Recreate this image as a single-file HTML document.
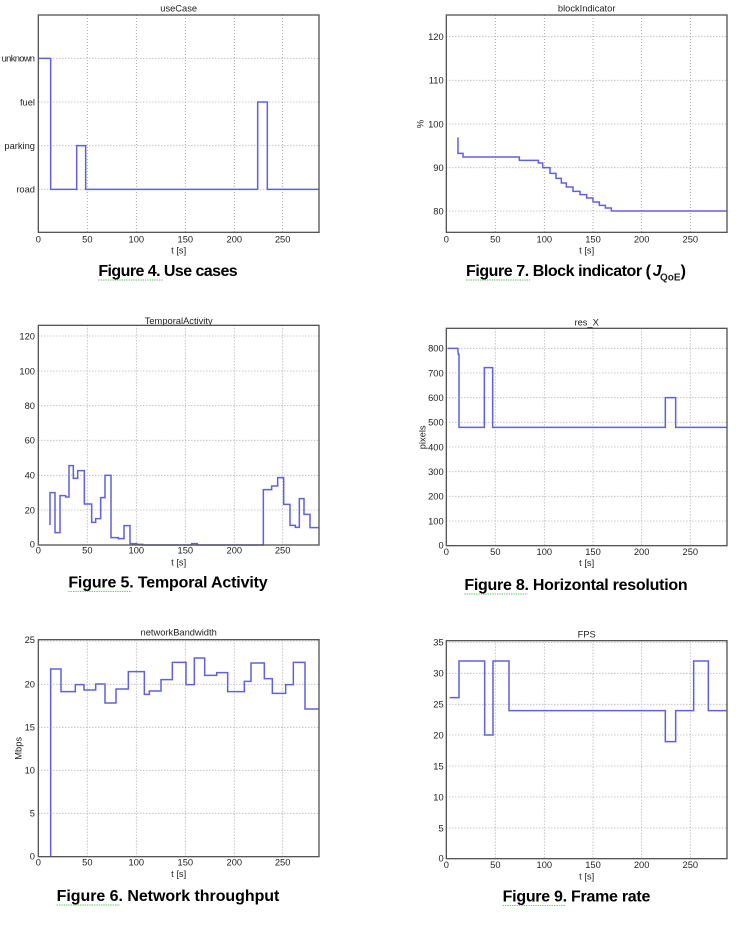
<!DOCTYPE html>
<html><head><meta charset="utf-8"><style>
html,body{margin:0;padding:0;background:#fff;}
svg{display:block;}
text{font-family:"Liberation Sans",sans-serif;fill:#222;}
.t{font-size:28px;}
.cap{font-size:48px;font-weight:bold;fill:#000;}
.d{fill:none;stroke:#6060e0;stroke-width:4.5;}
.ax{fill:none;stroke:#555;stroke-width:4;}
.g{stroke:#999;stroke-width:2.5;stroke-dasharray:3 6;}
.w{stroke:#2a2;stroke-width:2;stroke-dasharray:4 3;}
</style></head><body>
<svg width="753" height="925" viewBox="0 0 753 925" xmlns="http://www.w3.org/2000/svg">
<rect width="753" height="925" fill="#fff"/>

<!-- Panel 1 -->
<g transform="translate(0,0) scale(0.33333)">
<g id="g1"></g>
<text class="t" x="536" y="35" text-anchor="middle">useCase</text>
<g class="t" text-anchor="end"><text x="105" y="185" textLength="100">unknown</text><text x="105" y="316">fuel</text><text x="105" y="447">parking</text><text x="105" y="578">road</text></g>
<g class="t" text-anchor="middle"><text x="115" y="727">0</text><text x="262" y="727">50</text><text x="409" y="727">100</text><text x="556" y="727">150</text><text x="703" y="727">200</text><text x="848" y="727">250</text></g>
<text class="t" x="536" y="760" text-anchor="middle">t [s]</text>
<polyline class="d" points="115,175 152,175 152,568 230,568 230,437 257,437 257,568 773,568 773,306 802,306 802,568 957,568"/>
<rect class="ax" x="115" y="45" width="842" height="652"/>
<text class="cap" x="295" y="828" textLength="418">Figure 4. Use cases</text>
<line class="w" x1="295" y1="840" x2="488" y2="840"/>
</g>

<!-- Panel 2 -->
<g transform="translate(0,310) scale(0.33333)">
<g id="g2"></g>
<text class="t" x="536" y="42" text-anchor="middle">TemporalActivity</text>
<g class="t" text-anchor="end"><text x="105" y="88">120</text><text x="105" y="193">100</text><text x="105" y="297">80</text><text x="105" y="401">60</text><text x="105" y="506">40</text><text x="105" y="610">20</text><text x="105" y="713">0</text></g>
<g class="t" text-anchor="middle"><text x="115" y="731">0</text><text x="262" y="731">50</text><text x="409" y="731">100</text><text x="556" y="731">150</text><text x="703" y="731">200</text><text x="848" y="731">250</text></g>
<text class="t" x="536" y="766" text-anchor="middle">t [s]</text>
<polyline class="d" points="150,645 150,548 165,548 165,668 180,668 180,557 197,557 197,561 207,561 207,467 220,467 220,505 233,505 233,482 253,482 253,582 275,582 275,637 287,637 287,626 302,626 302,563 315,563 315,496 333,496 333,683 355,683 355,686 372,686 372,647 390,647 390,701 410,701 410,703 428,703 428,705 575,705 575,701 592,701 592,705 790,705 790,539 815,539 815,528 833,528 833,503 851,503 851,583 870,583 870,646 886,646 886,652 898,652 898,566 912,566 912,613 930,613 930,653 957,653"/>
<rect class="ax" x="115" y="46" width="842" height="659"/>
<text class="cap" x="205" y="833" textLength="598">Figure 5. Temporal Activity</text>
<line class="w" x1="205" y1="845" x2="395" y2="845"/>
</g>

<!-- Panel 3 -->
<g transform="translate(0,625) scale(0.33333)">
<g id="g3"></g>
<text class="t" x="536" y="32" text-anchor="middle">networkBandwidth</text>
<g class="t" text-anchor="end"><text x="105" y="54">25</text><text x="105" y="188">20</text><text x="105" y="317">15</text><text x="105" y="446">10</text><text x="105" y="575">5</text><text x="105" y="703">0</text></g>
<text class="t" transform="translate(65,370) rotate(-90)" text-anchor="middle">Mbps</text>
<g class="t" text-anchor="middle"><text x="115" y="722">0</text><text x="262" y="722">50</text><text x="409" y="722">100</text><text x="556" y="722">150</text><text x="703" y="722">200</text><text x="848" y="722">250</text></g>
<text class="t" x="536" y="756" text-anchor="middle">t [s]</text>
<polyline class="d" points="152,695 152,132 183,132 183,200 226,200 226,179 252,179 252,195 287,195 287,177 315,177 315,234 348,234 348,192 385,192 385,140 433,140 433,208 448,208 448,198 483,198 483,164 517,164 517,112 558,112 558,179 583,179 583,99 614,99 614,151 650,151 650,143 683,143 683,200 733,200 733,169 753,169 753,114 793,114 793,161 817,161 817,205 857,205 857,179 880,179 880,112 915,112 915,252 957,252"/>
<rect class="ax" x="115" y="44" width="842" height="651"/>
<text class="cap" x="170" y="828" textLength="668">Figure 6. Network throughput</text>
<line class="w" x1="170" y1="840" x2="360" y2="840"/>
</g>

<!-- Panel 4 -->
<g transform="translate(376,0) scale(0.33333)">
<g id="g4"></g>
<text class="t" x="632" y="35" text-anchor="middle">blockIndicator</text>
<g class="t" text-anchor="end"><text x="203" y="120">120</text><text x="203" y="251">110</text><text x="203" y="382">100</text><text x="203" y="513">90</text><text x="203" y="643">80</text></g>
<text class="t" transform="translate(143,372) rotate(-90)" text-anchor="middle">%</text>
<g class="t" text-anchor="middle"><text x="211" y="727">0</text><text x="358" y="727">50</text><text x="505" y="727">100</text><text x="651" y="727">150</text><text x="797" y="727">200</text><text x="943" y="727">250</text></g>
<text class="t" x="632" y="760" text-anchor="middle">t [s]</text>
<polyline class="d" points="246,412 246,460 261,460 261,471 430,471 430,481 487,481 487,489 500,489 500,503 522,503 522,520 540,520 540,535 556,535 556,549 571,549 571,561 591,561 591,574 612,574 612,584 632,584 632,594 651,594 651,606 670,606 670,616 688,616 688,624 706,624 706,633 1053,633"/>
<rect class="ax" x="211" y="45" width="842" height="652"/>
<text class="cap" x="270" y="828" textLength="555">Figure 7. Block indicator (</text>
<text class="cap" x="830" y="828" font-style="italic" font-family="Liberation Serif">J</text>
<text x="852" y="842" font-size="30" font-weight="bold" font-family="Liberation Serif" fill="#000">QoE</text>
<text class="cap" x="914" y="828">)</text>
<line class="w" x1="270" y1="840" x2="462" y2="840"/>
</g>

<!-- Panel 5 -->
<g transform="translate(376,310) scale(0.33333)">
<g id="g5"></g>
<text class="t" x="632" y="46" text-anchor="middle">res_X</text>
<g class="t" text-anchor="end"><text x="203" y="125">800</text><text x="203" y="199">700</text><text x="203" y="273">600</text><text x="203" y="347">500</text><text x="203" y="421">400</text><text x="203" y="495">300</text><text x="203" y="569">200</text><text x="203" y="643">100</text><text x="203" y="715">0</text></g>
<text class="t" transform="translate(148,382) rotate(-90)" text-anchor="middle">pixels</text>
<g class="t" text-anchor="middle"><text x="211" y="735">0</text><text x="358" y="735">50</text><text x="505" y="735">100</text><text x="651" y="735">150</text><text x="797" y="735">200</text><text x="943" y="735">250</text></g>
<text class="t" x="632" y="768" text-anchor="middle">t [s]</text>
<polyline class="d" points="215,115 245,115 247,133 249,133 249,352 325,352 325,173 350,173 350,352 868,352 868,263 899,263 899,352 1053,352"/>
<rect class="ax" x="211" y="55" width="842" height="652"/>
<text class="cap" x="265" y="840" textLength="670">Figure 8. Horizontal resolution</text>
<line class="w" x1="265" y1="852" x2="455" y2="852"/>
</g>

<!-- Panel 6 -->
<g transform="translate(376,625) scale(0.33333)">
<g id="g6"></g>
<text class="t" x="632" y="38" text-anchor="middle">FPS</text>
<g class="t" text-anchor="end"><text x="203" y="62">35</text><text x="203" y="155">30</text><text x="203" y="248">25</text><text x="203" y="340">20</text><text x="203" y="433">15</text><text x="203" y="526">10</text><text x="203" y="619">5</text><text x="203" y="709">0</text></g>
<g class="t" text-anchor="middle"><text x="211" y="729">0</text><text x="358" y="729">50</text><text x="505" y="729">100</text><text x="651" y="729">150</text><text x="797" y="729">200</text><text x="943" y="729">250</text></g>
<text class="t" x="632" y="763" text-anchor="middle">t [s]</text>
<polyline class="d" points="221,218 249,218 249,108 326,108 326,330 351,330 351,108 399,108 399,257 868,257 868,350 899,350 899,257 953,257 953,108 997,108 997,257 1053,257"/>
<rect class="ax" x="211" y="47" width="842" height="654"/>
<text class="cap" x="380" y="830" textLength="443">Figure 9. Frame rate</text>
<line class="w" x1="380" y1="842" x2="570" y2="842"/>
</g>
</svg>
<script>
var NS="http://www.w3.org/2000/svg";
function grid(id,xs,ys,x0,x1,y0,y1){
  var g=document.getElementById(id);
  xs.forEach(function(x){var l=document.createElementNS(NS,"line");l.setAttribute("class","g");l.setAttribute("x1",x);l.setAttribute("x2",x);l.setAttribute("y1",y0);l.setAttribute("y2",y1);g.appendChild(l);});
  ys.forEach(function(y){var l=document.createElementNS(NS,"line");l.setAttribute("class","g");l.setAttribute("y1",y);l.setAttribute("y2",y);l.setAttribute("x1",x0);l.setAttribute("x2",x1);g.appendChild(l);});
}
var LX=[262,409,556,703,848], RX=[358,505,651,797,943];
grid("g1",LX,[175,306,437,568],115,957,45,697);
grid("g2",LX,[78,183,287,391,496,600],115,957,46,705);
grid("g3",LX,[48,178,307,436,565],115,957,44,695);
grid("g4",RX,[110,241,372,503,633],211,1053,45,697);
grid("g5",RX,[115,189,263,337,411,485,559,633],211,1053,55,707);
grid("g6",RX,[52,145,238,330,423,516,609],211,1053,47,701);
</script>
</body></html>
